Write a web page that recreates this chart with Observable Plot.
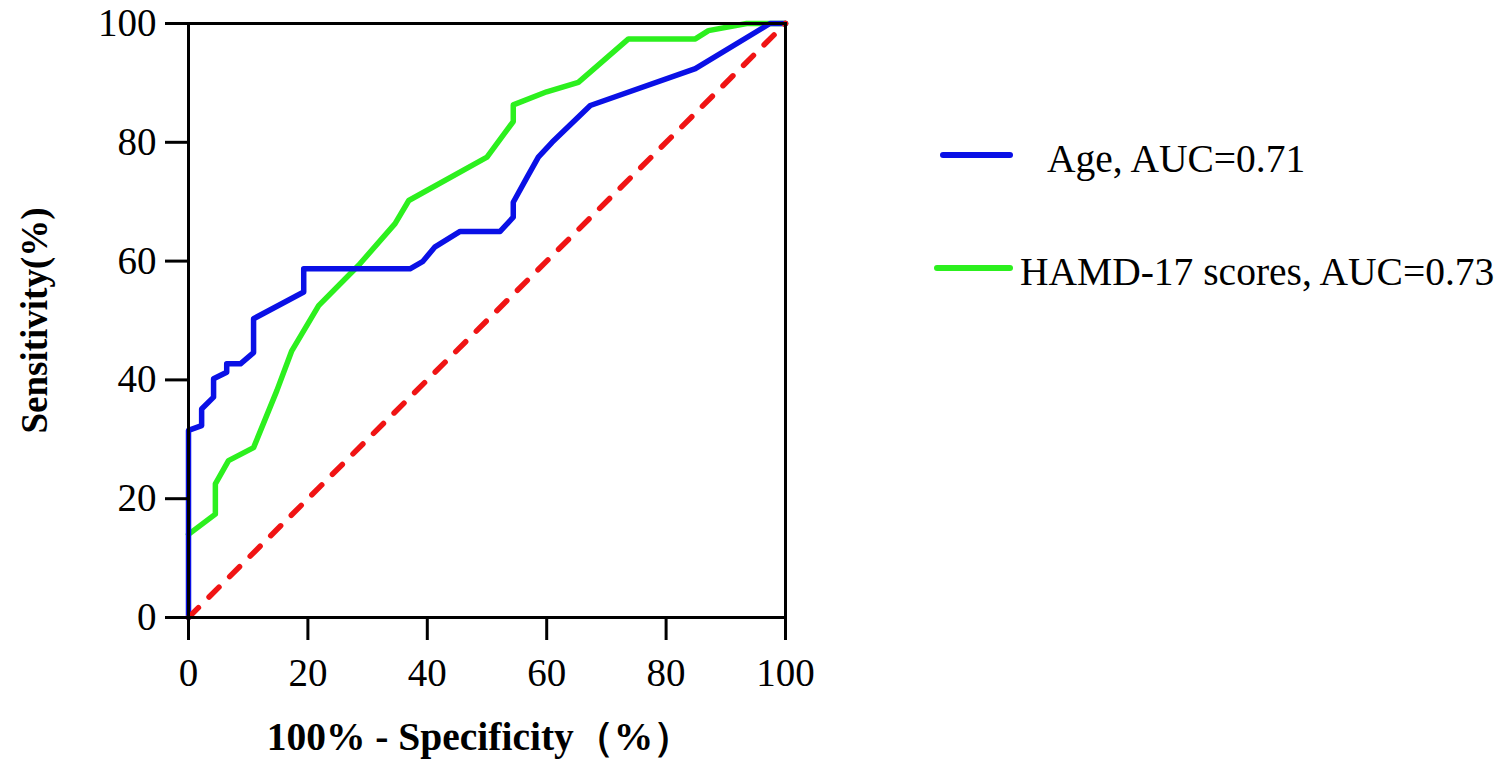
<!DOCTYPE html>
<html>
<head>
<meta charset="utf-8">
<script src="https://cdn.jsdelivr.net/npm/d3@7"></script>
<script src="https://cdn.jsdelivr.net/npm/@observablehq/plot@0.6"></script>
<style>
  html, body { margin: 0; padding: 0; background: #fff; }
  #wrap { position: relative; width: 1510px; height: 774px; font-family: "Liberation Serif", "Times New Roman", serif; }
  #legend { position: absolute; left: 0; top: 0; pointer-events: none; }
</style>
</head>
<body>
<div id="wrap"></div>
<script>
// ROC curve for Age (100% - Specificity, Sensitivity)
const ageX = [0, 0, 2.2, 2.2, 4.2, 4.2, 6.4, 6.4, 8.7, 10.9, 10.9, 19.3, 19.3, 37.1, 39.2, 41.3, 45.5, 52.2, 54.4, 54.4, 56.7, 58.6, 60.9, 67.3, 84.9, 97.4, 100];
const ageY = [0, 31.5, 32.3, 35.1, 37.1, 40.2, 41.3, 42.7, 42.7, 44.6, 50.3, 54.8, 58.7, 58.7, 59.9, 62.4, 65.0, 65.0, 67.4, 69.9, 74.1, 77.5, 80.0, 86.2, 92.4, 100, 100];

// ROC curve for HAMD-17 scores
const hamdX = [0, 4.5, 4.5, 6.7, 10.9, 14.8, 17.3, 21.8, 28.5, 34.6, 36.9, 50.0, 54.4, 54.4, 60.0, 65.3, 73.7, 84.9, 87.1, 93.5, 100];
const hamdY = [14.0, 17.4, 22.5, 26.4, 28.6, 38.2, 44.9, 52.5, 59.3, 66.3, 70.2, 77.5, 83.5, 86.3, 88.5, 90.1, 97.4, 97.4, 98.8, 100, 100];

// Reference (chance) line
const refX = [0, 100];
const refY = [0, 100];

const tickValues = [0, 20, 40, 60, 80, 100];
const seriesNames = ["Age, AUC=0.71", "HAMD-17 scores, AUC=0.73"];
const seriesColors = ["#0a10e6", "#2cf01e"];
const refColor = "#f01414";
const xTitle = "100% - Specificity（%）";
const yTitle = "Sensitivity(%)";

const toRows = (xs, ys) => xs.map((x, i) => ({x, y: ys[i]}));
const ageRows = toRows(ageX, ageY);
const hamdRows = toRows(hamdX, hamdY);
const refRows = toRows(refX, refY);

const chart = Plot.plot({
  width: 1510,
  height: 774,
  marginLeft: 188,
  marginRight: 725,
  marginTop: 23,
  marginBottom: 157,
  x: {domain: [0, 100]},
  y: {domain: [0, 100]},
  style: {fontFamily: "'Liberation Serif', 'Times New Roman', serif", fontSize: "39px", color: "black", background: "white", overflow: "visible"},
  marks: [
    Plot.line(hamdRows, {x: "x", y: "y", stroke: seriesColors[1], strokeWidth: 5.5, strokeLinejoin: "round"}),
    Plot.line(ageRows, {x: "x", y: "y", stroke: seriesColors[0], strokeWidth: 5.5, strokeLinejoin: "round"}),
    Plot.line(refRows, {x: "x", y: "y", stroke: refColor, strokeWidth: 5.5, strokeDasharray: "14,15", strokeLinecap: "round"}),
    Plot.frame({stroke: "black", strokeWidth: 3}),
    Plot.axisX({ticks: tickValues, tickSize: 23, tickPadding: 18, tickFormat: d => String(d), label: null, strokeWidth: 3, fontSize: 39}),
    Plot.axisY({ticks: tickValues, tickSize: 23, tickPadding: 9, tickFormat: d => String(d), label: null, strokeWidth: 3, fontSize: 39}),
    Plot.text([yTitle], {text: d => d, frameAnchor: "left", textAnchor: "middle", lineAnchor: "middle", rotate: -90, dx: -153, fontWeight: "bold", fontSize: 37}),
    Plot.text([xTitle], {text: d => d, frameAnchor: "bottom", textAnchor: "middle", lineAnchor: "middle", dy: 120, dx: -7, fontWeight: "bold", fontSize: 39.5})
  ]
});

const wrap = document.getElementById("wrap");
wrap.appendChild(chart);

// Legend overlay
const ns = "http://www.w3.org/2000/svg";
const leg = document.createElementNS(ns, "svg");
leg.setAttribute("id", "legend");
leg.setAttribute("width", 1510);
leg.setAttribute("height", 774);
const legendItems = [
  {x1: 943, x2: 1010, y: 155, tx: 1047, ty: 172},
  {x1: 937, x2: 1010, y: 268, tx: 1020, ty: 285}
];
legendItems.forEach((it, i) => {
  const ln = document.createElementNS(ns, "line");
  ln.setAttribute("x1", it.x1); ln.setAttribute("x2", it.x2);
  ln.setAttribute("y1", it.y); ln.setAttribute("y2", it.y);
  ln.setAttribute("stroke", seriesColors[i]);
  ln.setAttribute("stroke-width", 6);
  ln.setAttribute("stroke-linecap", "round");
  leg.appendChild(ln);
  const tx = document.createElementNS(ns, "text");
  tx.setAttribute("x", it.tx); tx.setAttribute("y", it.ty);
  tx.setAttribute("font-family", "'Liberation Serif', 'Times New Roman', serif");
  tx.setAttribute("font-size", 39.5);
  tx.setAttribute("fill", "black");
  tx.textContent = seriesNames[i];
  leg.appendChild(tx);
});
wrap.appendChild(leg);
</script>
</body>
</html>
